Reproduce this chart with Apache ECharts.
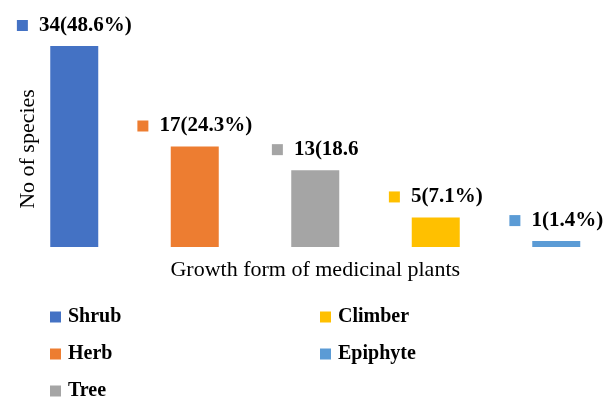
<!DOCTYPE html>
<html>
<head>
<meta charset="utf-8">
<script src="https://cdn.jsdelivr.net/npm/echarts@6/dist/echarts.min.js"></script>
<style>html,body{margin:0;padding:0;background:#fff;}#c{width:615px;height:412px;}</style>
</head>
<body>
<div id="c"></div>
<script>
// ---- data ----
var categories = ['Shrub', 'Herb', 'Tree', 'Climber', 'Epiphyte'];
var values = [34, 17, 13, 5, 1];
var labelTexts = ['34(48.6%)', '17(24.3%)', '13(18.6', '5(7.1%)', '1(1.4%)'];
var xName = 'Growth form of medicinal plants';
var yName = 'No of species';
var legendCol1 = ['Shrub', 'Herb', 'Tree'];
var legendCol2 = ['Climber', 'Epiphyte'];

// ---- styles ----
var colors = ['#4472C4', '#ED7D31', '#A5A5A5', '#FFC000', '#5B9BD5'];
var serif = '"Liberation Serif", "DejaVu Serif", serif';

var series = categories.map(function (name, i) {
  var d = categories.map(function (c, j) { return j === i ? values[i] : '-'; });
  return {
    name: name,
    type: 'bar',
    data: d,
    barWidth: 48,
    barGap: '-100%',
    itemStyle: { color: colors[i] },
    label: {
      show: true,
      position: 'top',
      distance: 10,
      formatter: function () { return '{m|}{t|' + labelTexts[i] + '}'; },
      rich: {
        m: { width: 11, height: 11, backgroundColor: colors[i] },
        t: { fontFamily: serif, fontWeight: 'bold', fontSize: 21, color: '#000', padding: [0, 0, 0, 11] }
      }
    }
  };
});

var legendBase = {
  orient: 'vertical',
  icon: 'rect',
  itemWidth: 11,
  itemHeight: 11,
  itemGap: 17,
  textStyle: { fontFamily: serif, fontWeight: 'bold', fontSize: 20, color: '#000', lineHeight: 20, padding: [0, 0, 0, 2] }
};

var chart = echarts.init(document.getElementById('c'), null, { renderer: 'canvas' });
chart.setOption({
  backgroundColor: '#fff',
  animation: false,
  grid: { left: 14, right: -1.5, top: 46, bottom: 165, containLabel: false, outerBoundsMode: 'none' },
  xAxis: {
    type: 'category',
    data: categories,
    name: xName,
    nameLocation: 'middle',
    nameGap: 12,
    nameTextStyle: { fontFamily: serif, fontSize: 22, color: '#000', verticalAlign: 'top' },
    axisLine: { show: false },
    axisTick: { show: false },
    axisLabel: { show: false }
  },
  yAxis: {
    type: 'value',
    min: 0,
    max: 34,
    name: yName,
    nameLocation: 'middle',
    nameGap: -25,
    nameTextStyle: { fontFamily: serif, fontSize: 22, color: '#000', padding: [0, 5, 0, 0] },
    axisLine: { show: false },
    axisTick: { show: false },
    axisLabel: { show: false },
    splitLine: { show: false }
  },
  legend: [
    Object.assign({}, legendBase, { data: legendCol1, left: 45, top: 302 }),
    Object.assign({}, legendBase, { data: legendCol2, left: 315, top: 302 })
  ],
  series: series
});
</script>
</body>
</html>
